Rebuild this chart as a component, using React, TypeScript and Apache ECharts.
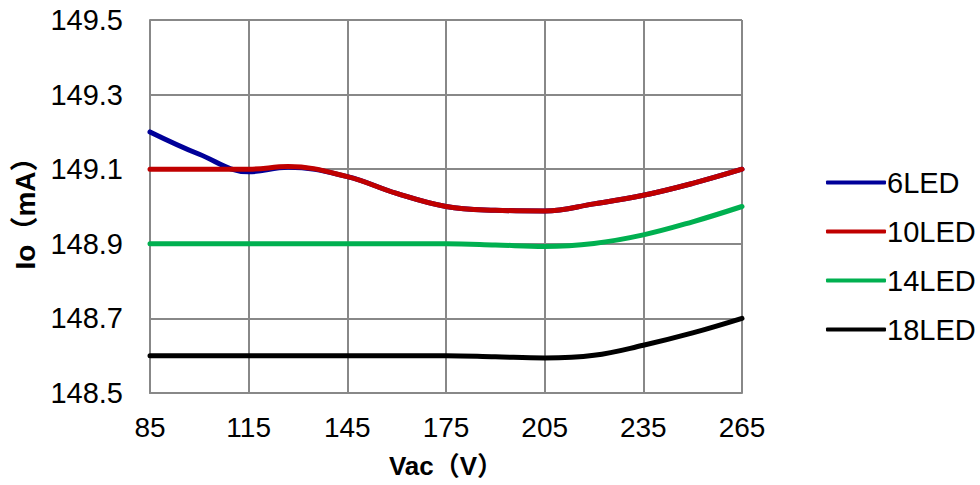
import React, { useEffect, useRef } from "react";
import * as echarts from "echarts";

const xValues = [85, 100, 115, 127, 145, 160, 175, 190, 205, 220, 235, 250, 265];
const led6 = [149.2, 149.14, 149.093, 149.105, 149.08, 149.035, 149.0, 148.99, 148.988, 149.007, 149.03, 149.062, 149.1];
const led10 = [149.1, 149.1, 149.1, 149.107, 149.08, 149.035, 149.0, 148.99, 148.988, 149.007, 149.03, 149.062, 149.1];
const led14 = [148.9, 148.9, 148.9, 148.9, 148.9, 148.9, 148.9, 148.897, 148.893, 148.901, 148.924, 148.959, 149.0];
const led18 = [148.6, 148.6, 148.6, 148.6, 148.6, 148.6, 148.6, 148.597, 148.594, 148.601, 148.628, 148.661, 148.7];

const seriesNames = ["6LED", "10LED", "14LED", "18LED"];
const seriesData = [led6, led10, led14, led18];
const colors = ["#000099", "#C00000", "#00B050", "#000000"];

const FONT = "Arial, 'Liberation Sans', 'Noto Sans CJK SC', sans-serif";

export default function App() {
  const ref = useRef<HTMLDivElement>(null);
  useEffect(() => {
    if (!ref.current) return;
    const chart = echarts.init(ref.current, undefined, { renderer: "svg" });
    chart.setOption({
      animation: false,
      backgroundColor: "#ffffff",
      textStyle: { fontFamily: FONT },
      grid: { left: 150, right: 238, top: 20, bottom: 92, containLabel: false },
      legend: {
        orient: "vertical",
        left: 826,
        top: 168,
        padding: 0,
        itemWidth: 60,
        itemHeight: 4,
        itemGap: 20,
        icon: "roundRect",
        textStyle: { fontSize: 29, color: "#000", fontFamily: FONT, padding: [0, 0, 0, -4] },
        data: seriesNames,
      },
      xAxis: {
        type: "value",
        min: 85,
        max: 265,
        interval: 30,
        name: "Vac（V）",
        nameLocation: "middle",
        nameGap: 60,
        nameTextStyle: { fontSize: 26, fontWeight: "bold", color: "#000", fontFamily: FONT },
        axisLine: { show: true, lineStyle: { color: "#888888", width: 2 } },
        axisTick: { show: false },
        axisLabel: { fontSize: 28, color: "#000", margin: 20, fontFamily: FONT },
        splitLine: { show: true, lineStyle: { color: "#888888", width: 2 } },
      },
      yAxis: {
        type: "value",
        min: 148.5,
        max: 149.5,
        interval: 0.2,
        name: "Io（mA）",
        nameLocation: "middle",
        nameGap: 110,
        nameRotate: 90,
        nameTextStyle: { fontSize: 28, fontWeight: "bold", color: "#000", fontFamily: FONT },
        axisLine: { show: true, lineStyle: { color: "#888888", width: 2 } },
        axisTick: { show: false },
        axisLabel: {
          fontSize: 29,
          color: "#000",
          margin: 27,
          fontFamily: FONT,
          formatter: (v: number) => v.toFixed(1),
        },
        splitLine: { show: true, lineStyle: { color: "#888888", width: 2 } },
      },
      series: seriesNames.map((name, i) => ({
        name,
        type: "line",
        smooth: 0.4,
        showSymbol: false,
        symbol: "none",
        data: xValues.map((x, j) => [x, seriesData[i][j]]),
        lineStyle: { color: colors[i], width: 5, cap: "round" },
        itemStyle: { color: colors[i] },
      })),
    });
    return () => chart.dispose();
  }, []);
  return (
    <div
      ref={ref}
      style={{ position: "absolute", left: 0, top: 0, width: 980, height: 485 }}
    />
  );
}
